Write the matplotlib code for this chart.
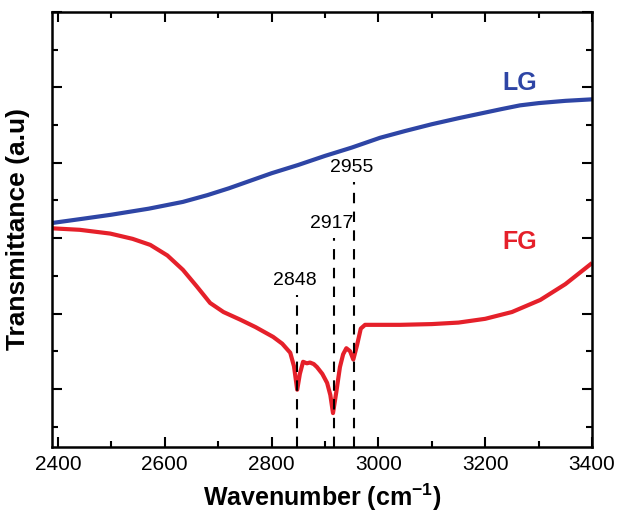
import matplotlib
matplotlib.use("Agg")
import matplotlib.pyplot as plt
from matplotlib.ticker import MultipleLocator, NullFormatter

plt.rcParams['font.family'] = ['Liberation Sans', 'DejaVu Sans']
plt.rcParams['mathtext.fontset'] = 'custom'
plt.rcParams['mathtext.rm'] = 'Liberation Sans'
plt.rcParams['mathtext.bf'] = 'Liberation Sans:bold'

# LG spectrum (wavenumber, transmittance a.u.)
lg_x = [2389, 2450, 2500, 2570, 2634, 2680, 2720, 2760, 2800, 2850, 2900, 2950,
        3003, 3050, 3100, 3150, 3190, 3230, 3265, 3300, 3350, 3400]
lg_y = [2.20, 2.26, 2.31, 2.39, 2.48, 2.57, 2.66, 2.76, 2.86, 2.97, 3.09, 3.20,
        3.33, 3.42, 3.51, 3.59, 3.65, 3.71, 3.76, 3.79, 3.82, 3.84]

# FG spectrum
fg_x = [2389, 2441, 2498, 2540, 2573, 2605, 2634, 2660, 2685, 2710, 2741, 2770,
        2803, 2820, 2835, 2842, 2848, 2853, 2859, 2866, 2872, 2879, 2885, 2895,
        2904, 2910, 2915, 2921, 2928, 2934, 2940, 2947, 2953, 2960, 2967, 2975,
        3000, 3041, 3100, 3150, 3200, 3250, 3303, 3350, 3400]
fg_y = [2.13, 2.11, 2.06, 1.99, 1.91, 1.77, 1.58, 1.36, 1.14, 1.02, 0.92, 0.82,
        0.69, 0.60, 0.48, 0.30, -0.01, 0.20, 0.36, 0.34, 0.35, 0.33, 0.29, 0.20,
        0.08, -0.08, -0.32, -0.05, 0.29, 0.46, 0.54, 0.50, 0.39, 0.58, 0.80, 0.85,
        0.85, 0.85, 0.86, 0.88, 0.93, 1.02, 1.18, 1.39, 1.67]

# Peak annotations
peaks = [2848, 2917, 2955]
peak_labels = ["2848", "2917", "2955"]
peak_top = [1.25, 2.00, 2.75]

fig = plt.figure(figsize=(6.18, 5.15), dpi=100)
ax = fig.add_axes([0.0841, 0.132, 0.874, 0.845])

blue = "#2E45A5"
red = "#E5202A"
ax.plot(lg_x, lg_y, color=blue, lw=3.0, solid_capstyle='butt')
ax.plot(fg_x, fg_y, color=red, lw=3.0, solid_capstyle='butt', solid_joinstyle='round')

ymin = -0.77
for px, lab, top in zip(peaks, peak_labels, peak_top):
    ax.plot([px, px], [ymin, top], color='black', lw=1.5, ls=(0, (5, 4)))
    ax.text(px - 5, top + 0.08, lab, ha='center', va='bottom', fontsize=14)

ax.text(3265, 4.06, "LG", color=blue, fontsize=18, fontweight='bold', ha='center', va='center')
ax.text(3265, 1.95, "FG", color=red, fontsize=18, fontweight='bold', ha='center', va='center')

ax.set_xlim(2389, 3400)
ax.set_ylim(ymin, 5.0)
ax.xaxis.set_major_locator(MultipleLocator(200))
ax.xaxis.set_minor_locator(MultipleLocator(100))
ax.yaxis.set_major_locator(MultipleLocator(1))
ax.yaxis.set_minor_locator(MultipleLocator(0.5))
ax.yaxis.set_major_formatter(NullFormatter())
ax.tick_params(which='both', direction='in', top=True, right=True, width=1.5)
ax.tick_params(which='major', length=7, labelsize=15, pad=6)
ax.tick_params(which='minor', length=4)
for s in ax.spines.values():
    s.set_linewidth(1.8)

ax.set_xlabel(r"Wavenumber (cm$^{\mathbf{-1}}$)", fontsize=18, fontweight='bold', labelpad=5)
ax.set_ylabel("Transmittance (a.u)", fontsize=19, fontweight='bold', labelpad=10)

fig.savefig("out.png", dpi=100)
